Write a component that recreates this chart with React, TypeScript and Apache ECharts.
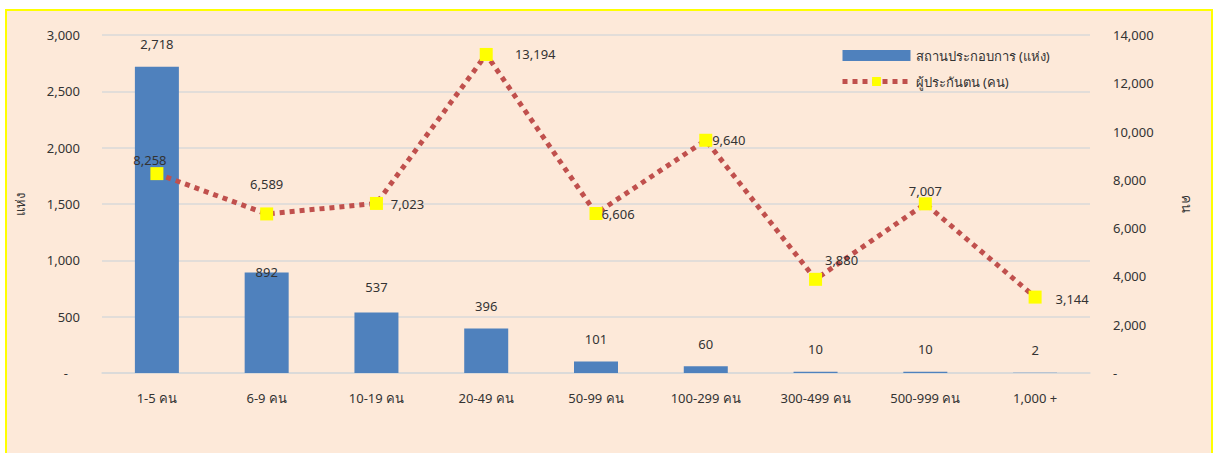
import React, { useEffect, useRef } from "react";
import * as echarts from "echarts";

const categories = ["1-5 คน", "6-9 คน", "10-19 คน", "20-49 คน", "50-99 คน", "100-299 คน", "300-499 คน", "500-999 คน", "1,000 +"];
const establishments = [2718, 892, 537, 396, 101, 60, 10, 10, 2];
const insured = [8258, 6589, 7023, 13194, 6606, 9640, 3880, 7007, 3144];
const barSeriesName = "สถานประกอบการ (แห่ง)";
const lineSeriesName = "ผู้ประกันตน (คน)";
const leftAxisName = "แห่ง";
const rightAxisName = "คน";

// label placement (styling, not data)
const barLabelDistances = [16, -6, 19, 16, 16, 16, 16, 16, 16];
const lineLabelOffsets: [number, number][] = [
  [-7, -14], [0, -30], [31, 1], [49, 0], [22, 0], [23, 0], [26, -19], [0, -13], [37, 2],
];

const FONT = '"Noto Sans", "DejaVu Sans", sans-serif';
const TEXT = "#333333";

const fmt = (v: number) => v.toLocaleString("en-US");

export default function App() {
  const ref = useRef<HTMLDivElement>(null);
  useEffect(() => {
    if (!ref.current) return;
    const chart = echarts.init(ref.current, undefined, { renderer: "svg" });
    chart.setOption({
      animation: false,
      textStyle: { fontFamily: FONT, color: TEXT },
      grid: { left: 102, right: 126, top: 35, bottom: 80 },
      legend: {
        orient: "vertical",
        left: 835,
        top: 44,
        itemWidth: 68,
        itemHeight: 11,
        itemGap: 13,
        textStyle: { fontFamily: FONT, fontSize: 13, color: TEXT },
        data: [
          { name: barSeriesName, icon: "rect" },
          {
            name: lineSeriesName,
            lineStyle: { color: "#C0504D", width: 5, type: [5, 5], cap: "butt" },
            itemStyle: { color: "#FFFF00" },
          },
        ],
      },
      xAxis: {
        type: "category",
        data: categories,
        axisTick: { show: false },
        axisLine: { lineStyle: { color: "#D9D9D9", width: 1.5 } },
        axisLabel: { margin: 18, fontSize: 13, color: TEXT, fontFamily: FONT },
      },
      yAxis: [
        {
          type: "value",
          min: 0,
          max: 3000,
          interval: 500,
          name: leftAxisName,
          nameLocation: "middle",
          nameGap: 76,
          nameRotate: 90,
          nameTextStyle: { fontSize: 13, color: TEXT, fontFamily: FONT },
          axisLine: { show: false },
          axisTick: { show: false },
          splitLine: { lineStyle: { color: "#D9D9D9", width: 1.5 } },
          axisLabel: {
            margin: 22,
            fontSize: 13,
            color: TEXT,
            fontFamily: FONT,
            formatter: (v: number) => (v === 0 ? "{d|-}" : fmt(v)),
            rich: { d: { padding: [0, 12, 0, 0], fontSize: 13, color: TEXT } },
          },
        },
        {
          type: "value",
          min: 0,
          max: 14000,
          interval: 2000,
          name: rightAxisName,
          nameLocation: "middle",
          nameGap: 90,
          nameRotate: -90,
          nameTextStyle: { fontSize: 13, color: TEXT, fontFamily: FONT },
          axisLine: { show: false },
          axisTick: { show: false },
          splitLine: { show: false },
          axisLabel: {
            margin: 23,
            fontSize: 13,
            color: TEXT,
            fontFamily: FONT,
            formatter: (v: number) => (v === 0 ? "-" : fmt(v)),
          },
        },
      ],
      series: [
        {
          name: barSeriesName,
          type: "bar",
          yAxisIndex: 0,
          barWidth: 44,
          itemStyle: { color: "#4F81BD" },
          data: establishments.map((v, i) => ({
            value: v,
            label: { distance: barLabelDistances[i] },
          })),
          label: {
            show: true,
            position: "top",
            fontSize: 13,
            color: TEXT,
            fontFamily: FONT,
            formatter: (p: any) => fmt(p.value),
          },
        },
        {
          name: lineSeriesName,
          type: "line",
          yAxisIndex: 1,
          symbol: "rect",
          symbolSize: 13,
          itemStyle: { color: "#FFFF00" },
          lineStyle: { color: "#C0504D", width: 5, type: [5, 5], cap: "butt" },
          z: 5,
          data: insured.map((v, i) => ({
            value: v,
            label: { offset: lineLabelOffsets[i] },
          })),
          label: {
            show: true,
            position: "inside",
            fontSize: 13,
            color: TEXT,
            fontFamily: FONT,
            formatter: (p: any) => fmt(p.value),
          },
        },
      ],
    });
    return () => chart.dispose();
  }, []);

  return (
    <div style={{ position: "fixed", left: 0, top: 0, width: 1216, height: 453, background: "#FFFFFF", overflow: "hidden" }}>
      <div
        style={{
          position: "absolute",
          left: 5,
          top: 9,
          width: 1204,
          height: 460,
          border: "2px solid #FFFF00",
          background: "#FDE9D9",
        }}
      />
      <div ref={ref} style={{ position: "absolute", left: 0, top: 0, width: 1216, height: 453 }} />
    </div>
  );
}
